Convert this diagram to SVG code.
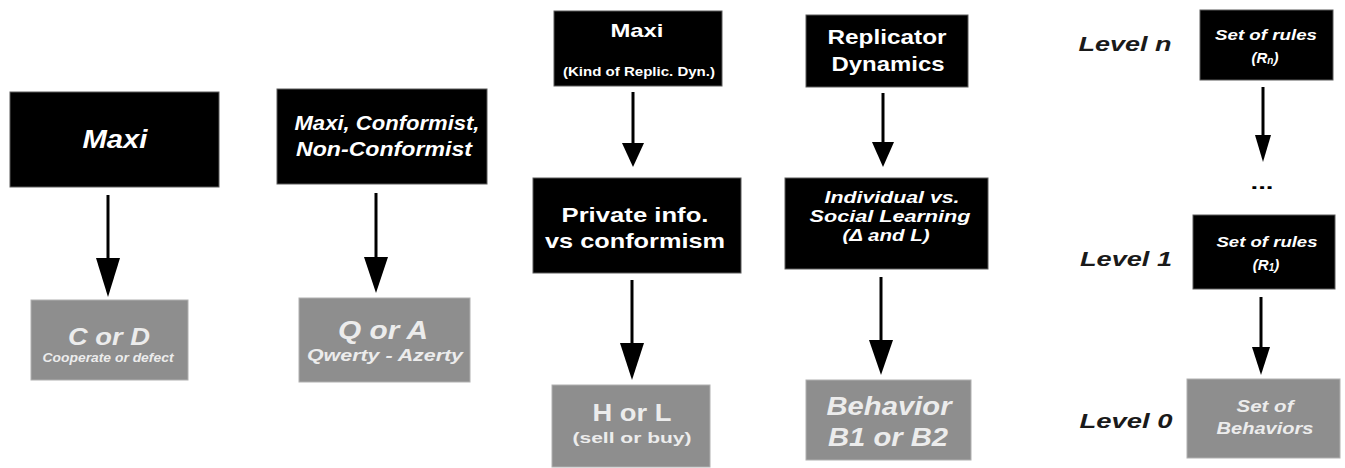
<svg xmlns="http://www.w3.org/2000/svg" width="1345" height="468" viewBox="0 0 1345 468">
<style>
.blk{fill:#000;stroke:#5a5a5a;stroke-width:1}
.gry{fill:#8e8e8e;stroke:#b0b0b0;stroke-width:1}
text{font-family:"Liberation Sans",Arial,sans-serif;font-weight:bold;text-anchor:middle}
.w{fill:#fff}
.l{fill:#ececec}
.i{font-style:italic}
.lv{fill:#1a1a1a;font-style:italic}
.ln{stroke:#000;stroke-width:3;fill:none}
.hd{fill:#000}
</style>
<rect width="1345" height="468" fill="#fff"/>
<g id="connectors">
<line class="ln" x1="108" y1="195" x2="108" y2="262"/><polygon class="hd" points="96,258 120,258 108,297"/>
<line class="ln" x1="376" y1="193" x2="376" y2="260"/><polygon class="hd" points="364,257 388,257 376,293"/>
<line class="ln" x1="633" y1="92" x2="633" y2="146"/><polygon class="hd" points="622,143 644,143 633,167"/>
<line class="ln" x1="632" y1="280" x2="632" y2="346"/><polygon class="hd" points="620,343 644,343 632,380"/>
<line class="ln" x1="883" y1="93" x2="883" y2="145"/><polygon class="hd" points="872,142 894,142 883,167"/>
<line class="ln" x1="881" y1="277" x2="881" y2="343"/><polygon class="hd" points="869,340 893,340 881,375"/>
<line class="ln" x1="1263" y1="87" x2="1263" y2="138"/><polygon class="hd" points="1255,135 1271,135 1263,162"/>
<line class="ln" x1="1261" y1="297" x2="1261" y2="350"/><polygon class="hd" points="1252,347 1270,347 1261,375"/>
</g>
<g id="n1"><rect class="blk" x="10" y="92" width="209" height="95"/><text class="w i" x="115" y="148" font-size="26" textLength="65" lengthAdjust="spacingAndGlyphs">Maxi</text></g>
<g id="n2"><rect class="gry" x="31" y="300" width="157" height="80"/><text class="l i" x="109" y="345" font-size="24" textLength="82" lengthAdjust="spacingAndGlyphs">C or D</text><text class="l i" x="108" y="362" font-size="12" textLength="131" lengthAdjust="spacingAndGlyphs">Cooperate or defect</text></g>
<g id="n3"><rect class="blk" x="277" y="89" width="210" height="95"/><text class="w i" x="387" y="130" font-size="20" textLength="185" lengthAdjust="spacingAndGlyphs">Maxi, Conformist,</text><text class="w i" x="384" y="156" font-size="20" textLength="176" lengthAdjust="spacingAndGlyphs">Non-Conformist</text></g>
<g id="n4"><rect class="gry" x="299" y="298" width="171" height="84"/><text class="l i" x="383" y="339" font-size="25" textLength="90" lengthAdjust="spacingAndGlyphs">Q or A</text><text class="l i" x="385" y="361" font-size="16" textLength="156" lengthAdjust="spacingAndGlyphs">Qwerty - Azerty</text></g>
<g id="n5"><rect class="blk" x="554" y="11" width="168" height="75"/><text class="w" x="637" y="37" font-size="19" textLength="53" lengthAdjust="spacingAndGlyphs">Maxi</text><text class="w" x="639" y="76" font-size="12" textLength="152" lengthAdjust="spacingAndGlyphs">(Kind of Replic. Dyn.)</text></g>
<g id="n6"><rect class="blk" x="533" y="178" width="208" height="95"/><text class="w" x="635" y="222" font-size="21" textLength="147" lengthAdjust="spacingAndGlyphs">Private info.</text><text class="w" x="635" y="248" font-size="21" textLength="180" lengthAdjust="spacingAndGlyphs">vs conformism</text></g>
<g id="n7"><rect class="gry" x="552" y="385" width="158" height="82"/><text class="l" x="632" y="421" font-size="23" textLength="79" lengthAdjust="spacingAndGlyphs">H or L</text><text class="l" x="632" y="443" font-size="15" textLength="119" lengthAdjust="spacingAndGlyphs">(sell or buy)</text></g>
<g id="n8"><rect class="blk" x="806" y="15" width="162" height="72"/><text class="w" x="887" y="44" font-size="21" textLength="119" lengthAdjust="spacingAndGlyphs">Replicator</text><text class="w" x="888" y="71" font-size="21" textLength="113" lengthAdjust="spacingAndGlyphs">Dynamics</text></g>
<g id="n9"><rect class="blk" x="785" y="178" width="203" height="91"/><text class="w i" x="892" y="203" font-size="16" textLength="135" lengthAdjust="spacingAndGlyphs">Individual vs.</text><text class="w i" x="890" y="222" font-size="16" textLength="161" lengthAdjust="spacingAndGlyphs">Social Learning</text><text class="w i" x="886" y="241" font-size="16" textLength="87" lengthAdjust="spacingAndGlyphs">(Δ and L)</text></g>
<g id="n10"><rect class="gry" x="806" y="380" width="165" height="80"/><text class="l i" x="889" y="415" font-size="25" textLength="125" lengthAdjust="spacingAndGlyphs">Behavior</text><text class="l i" x="888" y="446" font-size="25" textLength="120" lengthAdjust="spacingAndGlyphs">B1 or B2</text></g>
<g id="lvln"><text class="lv" x="1125" y="51" font-size="21" textLength="93" lengthAdjust="spacingAndGlyphs">Level n</text></g>
<g id="lvl1"><text class="lv" x="1126" y="266" font-size="21" textLength="92" lengthAdjust="spacingAndGlyphs">Level 1</text></g>
<g id="lvl0"><text class="lv" x="1126" y="428" font-size="21" textLength="93" lengthAdjust="spacingAndGlyphs">Level 0</text></g>
<g id="n11"><rect class="blk" x="1200" y="10" width="133" height="70"/><text class="w i" x="1266" y="40" font-size="14" textLength="102" lengthAdjust="spacingAndGlyphs">Set of rules</text><text class="w i" x="1265" y="63" font-size="15">(R<tspan font-size="10" dy="1">n</tspan><tspan dy="-1">)</tspan></text></g>
<g id="dots"><text x="1262" y="189" font-size="18" fill="#000" textLength="23" lengthAdjust="spacingAndGlyphs">...</text></g>
<g id="n12"><rect class="blk" x="1193" y="215" width="142" height="74"/><text class="w i" x="1267" y="247" font-size="14" textLength="101" lengthAdjust="spacingAndGlyphs">Set of rules</text><text class="w i" x="1266" y="270" font-size="15">(R<tspan font-size="10" dy="1">1</tspan><tspan dy="-1">)</tspan></text></g>
<g id="n13"><rect class="gry" x="1187" y="379" width="153" height="79"/><text class="l i" x="1265" y="412" font-size="17" textLength="57" lengthAdjust="spacingAndGlyphs">Set of</text><text class="l i" x="1265" y="434" font-size="17" textLength="97" lengthAdjust="spacingAndGlyphs">Behaviors</text></g>
</svg>
